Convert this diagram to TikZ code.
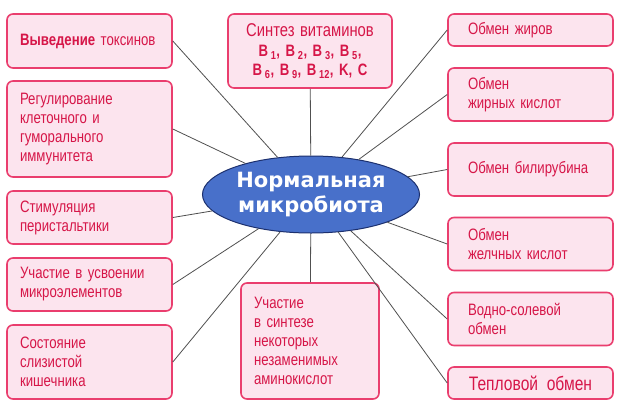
\documentclass[tikz,border=0pt]{standalone}
\usepackage{fontspec}
\setmainfont{Liberation Sans}[FakeStretch=0.8]
\newfontfamily\ellfont{DejaVu Sans}
\usetikzlibrary{shapes.geometric}
\usetikzlibrary{positioning}

\definecolor{boxfill}{RGB}{252,228,238}
\definecolor{boxline}{RGB}{234,62,110}
\definecolor{boxtext}{RGB}{214,22,72}
\definecolor{ellfill}{RGB}{72,112,202}
\definecolor{ellline}{RGB}{28,48,110}
\definecolor{linkgray}{RGB}{80,80,80}

\tikzset{
  box/.style={draw=boxline,line width=1.6pt,fill=boxfill,rounded corners=6pt,
    text=boxtext,font=\fontsize{16.5}{19}\selectfont,align=left,
    inner ysep=0pt,minimum height=#1},
  lbox/.style={box=#1,inner xsep=13pt,text width=139pt},
  rbox/.style={box=#1,inner xsep=20pt,text width=125pt},
  ellnode/.style={ellipse,draw=ellline,line width=1pt,fill=ellfill,text=white,
    font=\ellfont\bfseries\fontsize{21}{25}\selectfont,align=center,
    minimum width=217pt,minimum height=77pt,inner sep=0pt},
  link/.style={draw=linkgray,line width=0.8pt}
}

\begin{document}
\begin{tikzpicture}[x=1pt,y=-1pt]
\useasboundingbox[fill=white] (0,0) rectangle (620,413);

\node[ellnode] (micro) at (311,194.5) {Нормальная\\микробиота};

\node[lbox=54pt] (toxins) at (89.5,41) {\textbf{Выведение} токсинов};
\node[lbox=96pt] (immun) at (89.5,129) {Регулирование\\клеточного и\\гуморального\\иммунитета};
\node[lbox=53pt] (peris) at (89.5,217.5) {Стимуляция\\перистальтики};
\node[lbox=53pt] (micel) at (89.5,284.5) {Участие в усвоении\\микроэлементов};
\node[lbox=74pt] (mucus) at (89.5,362) {Состояние\\слизистой\\кишечника};

\node[box=74pt,inner xsep=10pt,text width=144pt,align=center] (vitam) at (310,51)
  {{\fontsize{18.5}{20}\selectfont Синтез витаминов}\\[1pt]
   \textbf{B\,\textsubscript{1}, B\,\textsubscript{2}, B\,\textsubscript{3}, B\,\textsubscript{5},}\\
   \textbf{B\,\textsubscript{6}, B\,\textsubscript{9}, B\,\textsubscript{12}, K, C}};
\node[box=116pt,inner xsep=13pt,text width=112pt] (amino) at (310,341)
  {Участие\\в синтезе\\некоторых\\незаменимых\\аминокислот};

\node[rbox=32pt] (fats) at (530.5,30) {Обмен жиров};
\node[rbox=53pt] (facid) at (530.5,94.5) {Обмен\\жирных кислот};
\node[rbox=53pt] (bilir) at (530.5,169.5) {Обмен билирубина};
\node[rbox=53pt] (bacid) at (530.5,244) {Обмен\\желчных кислот};
\node[rbox=53pt] (water) at (530.5,319) {Водно-солевой\\обмен};
\node[box=32pt,minimum width=165pt,inner xsep=0pt,font=\fontsize{19.5}{22}\selectfont] (heat) at (530.5,383) {Тепловой\ \ обмен};

\draw[link] (toxins.east) -- (micro);
\draw[link] (immun.east) -- (micro);
\draw[link] (peris.east) -- (micro);
\draw[link] (micel.east) -- (micro);
\draw[link] (mucus.east) -- (micro);
\draw[link] (vitam) -- (micro);
\draw[link] (amino) -- (micro);
\draw[link] (fats.west) -- (micro);
\draw[link] (facid.west) -- (micro);
\draw[link] (bilir.west) -- (micro);
\draw[link] (bacid.west) -- (micro);
\draw[link] (water.west) -- (micro);
\draw[link] (heat.west) -- (micro);
\end{tikzpicture}
\end{document}
